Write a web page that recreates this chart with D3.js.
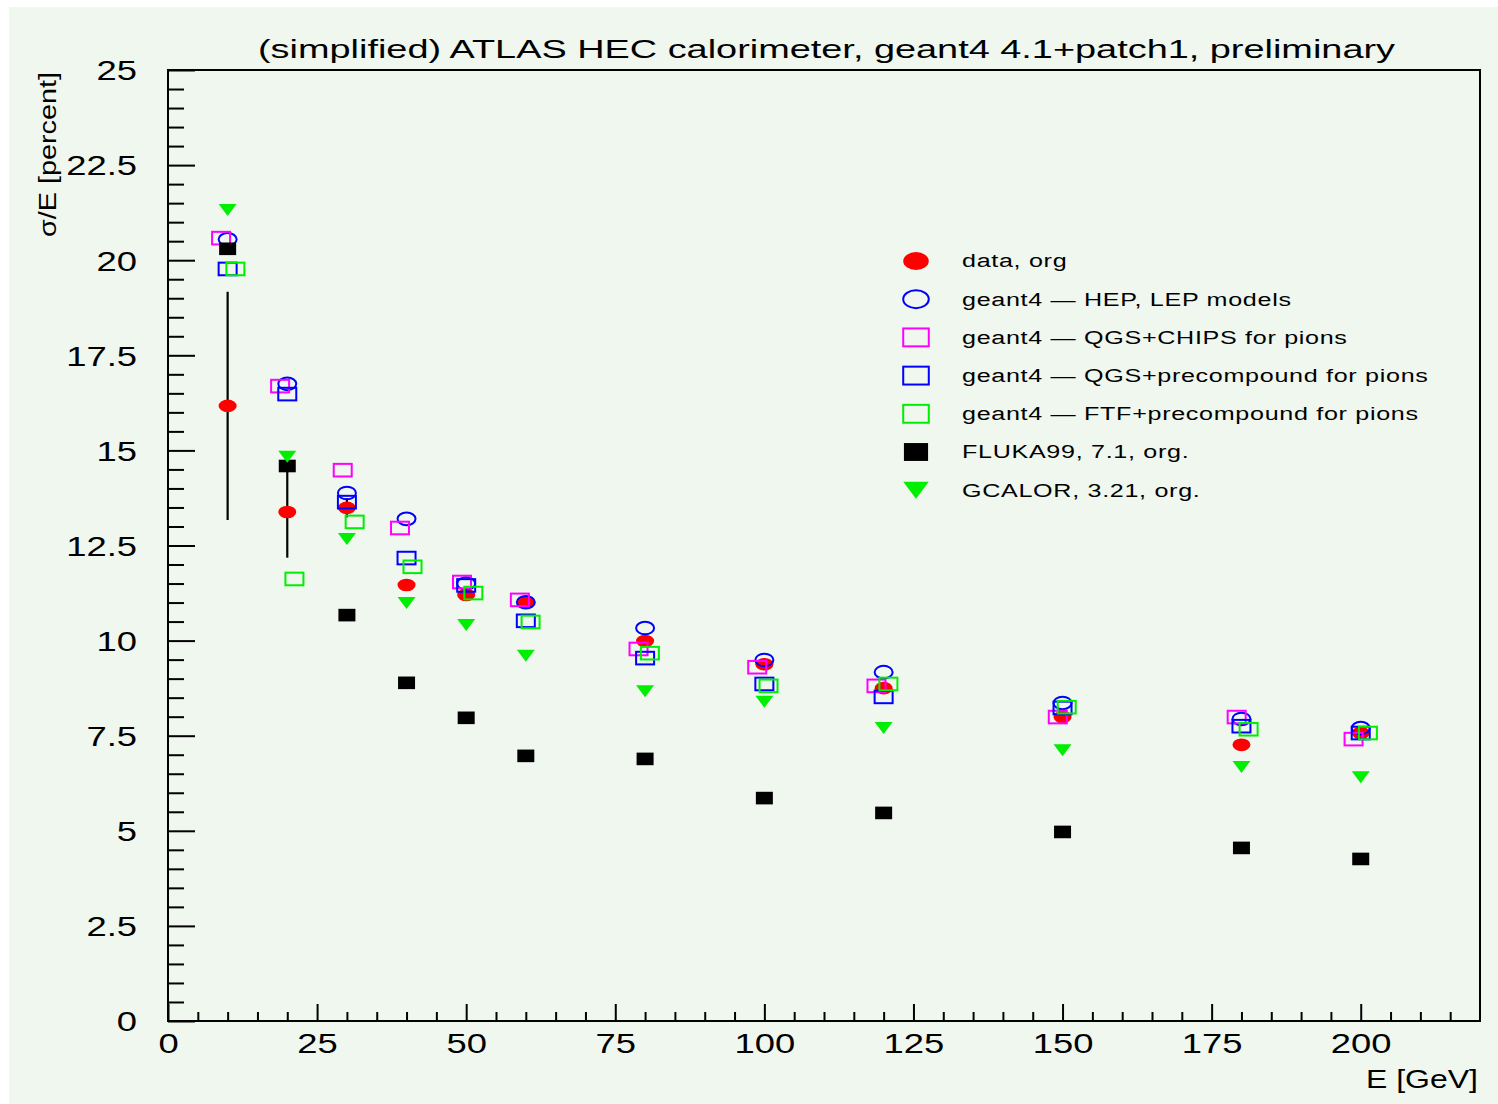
<!DOCTYPE html>
<html>
<head>
<meta charset="utf-8">
<script src="https://cdn.jsdelivr.net/npm/d3@7"></script>
<style>
  body { margin: 0; background: #ffffff; }
  svg { display: block; }
  text { font-family: "Liberation Sans", Arial, sans-serif; fill: #000; }
</style>
</head>
<body>
<div id="viz"></div>
<script>
const width = 1498;
const height = 1104;
const plot = {left: 168, right: 1480, top: 70, bottom: 1021};

// Beam energies (GeV) as plotted for each series
const energies = [10, 20, 30, 40, 50, 60, 80, 100, 120, 150, 180, 200];
const energiesQgsChips = [8.9, 18.8, 29.3, 38.9, 49.3, 59.0, 78.9, 98.8, 118.8, 149.2, 179.2, 198.8];
const energiesFtf = [11.3, 21.2, 31.3, 41.0, 51.2, 60.8, 80.8, 100.7, 120.8, 150.7, 181.2, 201.2];

// sigma/E in percent
const dataOrg = [16.17, 13.38, 13.49, 11.46, 11.2, 11.0, 9.99, 9.38, 8.75, 7.99, 7.26, 7.57];
const dataErr = [3.0, 1.2, 0.25, 0.15, 0.15, 0.15, 0.15, 0.15, 0.15, 0.15, 0.15, 0.15];
const hepLep = [20.55, 16.75, 13.88, 13.2, 11.5, 11.01, 10.33, 9.49, 9.17, 8.36, 7.94, 7.7];
const qgsChips = [20.58, 16.69, 14.48, 12.96, 11.54, 11.07, 9.78, 9.3, 8.81, 7.99, 7.99, 7.41];
const qgsPrecomp = [19.77, 16.48, 13.64, 12.17, 11.45, 10.52, 9.54, 8.86, 8.52, 8.23, 7.75, 7.57];
const ftfPrecomp = [19.77, 11.62, 13.12, 11.94, 11.25, 10.49, 9.67, 8.81, 8.86, 8.25, 7.67, 7.57];
const fluka = [20.3, 14.59, 10.67, 8.89, 7.97, 6.97, 6.89, 5.86, 5.47, 4.97, 4.55, 4.26];
const gcalor = [21.32, 14.83, 12.67, 10.99, 10.41, 9.6, 8.67, 8.39, 7.7, 7.12, 6.68, 6.41];

const xTicks = [0, 25, 50, 75, 100, 125, 150, 175, 200];
const yTicks = [0, 2.5, 5, 7.5, 10, 12.5, 15, 17.5, 20, 22.5, 25];

const series = [
  { label: 'data, org', x: energies, y: dataOrg, err: dataErr, shape: 'dot', color: '#ff0000' },
  { label: 'geant4 — HEP, LEP models', x: energies, y: hepLep, shape: 'circle', color: '#0000ff' },
  { label: 'geant4 — QGS+CHIPS for pions', x: energiesQgsChips, y: qgsChips, shape: 'box', color: '#ff00ff' },
  { label: 'geant4 — QGS+precompound for pions', x: energies, y: qgsPrecomp, shape: 'box', color: '#0000ff' },
  { label: 'geant4 — FTF+precompound for pions', x: energiesFtf, y: ftfPrecomp, shape: 'box', color: '#00ee00' },
  { label: 'FLUKA99, 7.1, org.', x: energies, y: fluka, shape: 'fillbox', color: '#000000' },
  { label: 'GCALOR, 3.21, org.', x: energies, y: gcalor, shape: 'triangle', color: '#00ee00' },
];

const xScale = d3.scaleLinear().domain([0, 220]).range([plot.left, plot.right]);
const yScale = d3.scaleLinear().domain([0, 25]).range([plot.bottom, plot.top]);

const svg = d3.select('#viz')
  .append('svg')
    .attr('width', width)
    .attr('height', height);

// background panel
svg.append('rect')
  .attr('x', 9).attr('y', 7)
  .attr('width', width - 9).attr('height', height - 7)
  .attr('fill', '#eff7ef');

// draw one marker of a given shape, scale k enlarges it (legend)
const drawMarker = (g, shape, color, k) => {
  if (shape === 'dot') {
    g.append('ellipse').attr('rx', 9 * k).attr('ry', 6.3 * k).attr('fill', color);
  } else if (shape === 'circle') {
    g.append('ellipse').attr('rx', 9 * k).attr('ry', 6.3 * k)
      .attr('fill', 'none').attr('stroke', color).attr('stroke-width', 2);
  } else if (shape === 'box') {
    g.append('rect').attr('x', -9 * k).attr('y', -6.3 * k)
      .attr('width', 18 * k).attr('height', 12.6 * k)
      .attr('fill', 'none').attr('stroke', color).attr('stroke-width', 2);
  } else if (shape === 'fillbox') {
    g.append('rect').attr('x', -8.5 * k).attr('y', -6.3 * k)
      .attr('width', 17 * k).attr('height', 12.6 * k)
      .attr('fill', color);
  } else if (shape === 'triangle') {
    g.append('path')
      .attr('d', `M${-9 * k},${-6 * k}L${9 * k},${-6 * k}L0,${6 * k}Z`)
      .attr('fill', color);
  }
};

// ---- axes (ticks inside) ----
const xMinor = d3.axisBottom(xScale)
  .tickValues(d3.range(5, 220, 5).filter(v => v % 25 !== 0))
  .tickSize(-9).tickFormat('');
svg.append('g')
  .attr('transform', `translate(0, ${plot.bottom})`)
  .call(xMinor)
  .call(g => g.select('.domain').remove())
  .call(g => g.selectAll('line').attr('stroke', '#000').attr('stroke-width', 2));

const xAxis = d3.axisBottom(xScale)
  .tickValues(xTicks)
  .tickSize(-17)
  .tickFormat(d3.format('d'));
svg.append('g')
  .attr('transform', `translate(0, ${plot.bottom})`)
  .call(xAxis)
  .call(g => g.select('.domain').remove())
  .call(g => g.selectAll('line').attr('stroke', '#000').attr('stroke-width', 2))
  .call(g => g.selectAll('text')
    .attr('y', 22).attr('dy', '0.35em')
    .attr('transform', 'scale(1.3,1)')
    .style('font-size', '28px'));

const yMinor = d3.axisLeft(yScale)
  .tickValues(d3.range(0.5, 25, 0.5).filter(v => v % 2.5 !== 0))
  .tickSize(-16).tickFormat('');
svg.append('g')
  .attr('transform', `translate(${plot.left}, 0)`)
  .call(yMinor)
  .call(g => g.select('.domain').remove())
  .call(g => g.selectAll('line').attr('stroke', '#000').attr('stroke-width', 2));

const yAxis = d3.axisLeft(yScale)
  .tickValues(yTicks)
  .tickSize(-27)
  .tickFormat(d => d);
svg.append('g')
  .attr('transform', `translate(${plot.left}, 0)`)
  .call(yAxis)
  .call(g => g.select('.domain').remove())
  .call(g => g.selectAll('line').attr('stroke', '#000').attr('stroke-width', 2))
  .call(g => g.selectAll('text')
    .attr('x', -31 / 1.3).attr('dy', '0.35em')
    .attr('transform', 'scale(1.3,1)')
    .style('font-size', '28px'));

// frame
svg.append('rect')
  .attr('x', plot.left).attr('y', plot.top)
  .attr('width', plot.right - plot.left).attr('height', plot.bottom - plot.top)
  .attr('fill', 'none').attr('stroke', '#000').attr('stroke-width', 2);

// ---- error bars of the data ----
svg.append('g')
  .selectAll('line')
  .data(energies.map((e, i) => ({ e, v: dataOrg[i], s: dataErr[i] })))
  .join('line')
    .attr('x1', d => xScale(d.e)).attr('x2', d => xScale(d.e))
    .attr('y1', d => yScale(d.v - d.s)).attr('y2', d => yScale(d.v + d.s))
    .attr('stroke', '#000').attr('stroke-width', 2.2);

// ---- markers ----
series.forEach(s => {
  const pts = s.x.map((e, i) => ({ e, v: s.y[i] }));
  svg.append('g')
    .selectAll('g')
    .data(pts)
    .join('g')
      .attr('transform', d => `translate(${xScale(d.e)}, ${yScale(d.v)})`)
      .each(function () { drawMarker(d3.select(this), s.shape, s.color, 1); });
});

// ---- legend ----
const legend = svg.append('g').attr('class', 'legend');
const rows = legend.selectAll('g')
  .data(series)
  .join('g')
    .attr('transform', (d, i) => `translate(916, ${261 + i * 38.2})`);
rows.each(function (d) { drawMarker(d3.select(this), d.shape, d.color, 1.42); });
const legendTexts = rows.append('text')
  .attr('x', 0).attr('y', 0).attr('dy', '0.35em')
  .style('font-size', '18px')
  .style('letter-spacing', '0.5px')
  .text(d => d.label);
// stretch legend text to the wide look of the original font
const longest = legendTexts.filter((d, i) => i === 3).node().getComputedTextLength();
const sx = 467 / longest;
legendTexts.attr('transform', `translate(46, 0) scale(${sx},1)`);

// ---- titles ----
const stretchText = (sel, target) => {
  const w = sel.node().getComputedTextLength();
  sel.attr('textLength', target).attr('lengthAdjust', 'spacingAndGlyphs');
  return w;
};

const title = svg.append('text')
  .attr('x', 258).attr('y', 58)
  .style('font-size', '25px')
  .text('(simplified) ATLAS HEC calorimeter, geant4 4.1+patch1, preliminary');
stretchText(title, 1137);

const xTitle = svg.append('text')
  .attr('x', 1366).attr('y', 1088)
  .style('font-size', '25px')
  .text('E [GeV]');
stretchText(xTitle, 112);

const yTitle = svg.append('text')
  .attr('transform', 'translate(56, 237) rotate(-90)')
  .style('font-size', '23px')
  .text('σ/E [percent]');
stretchText(yTitle, 165);
</script>
</body>
</html>
